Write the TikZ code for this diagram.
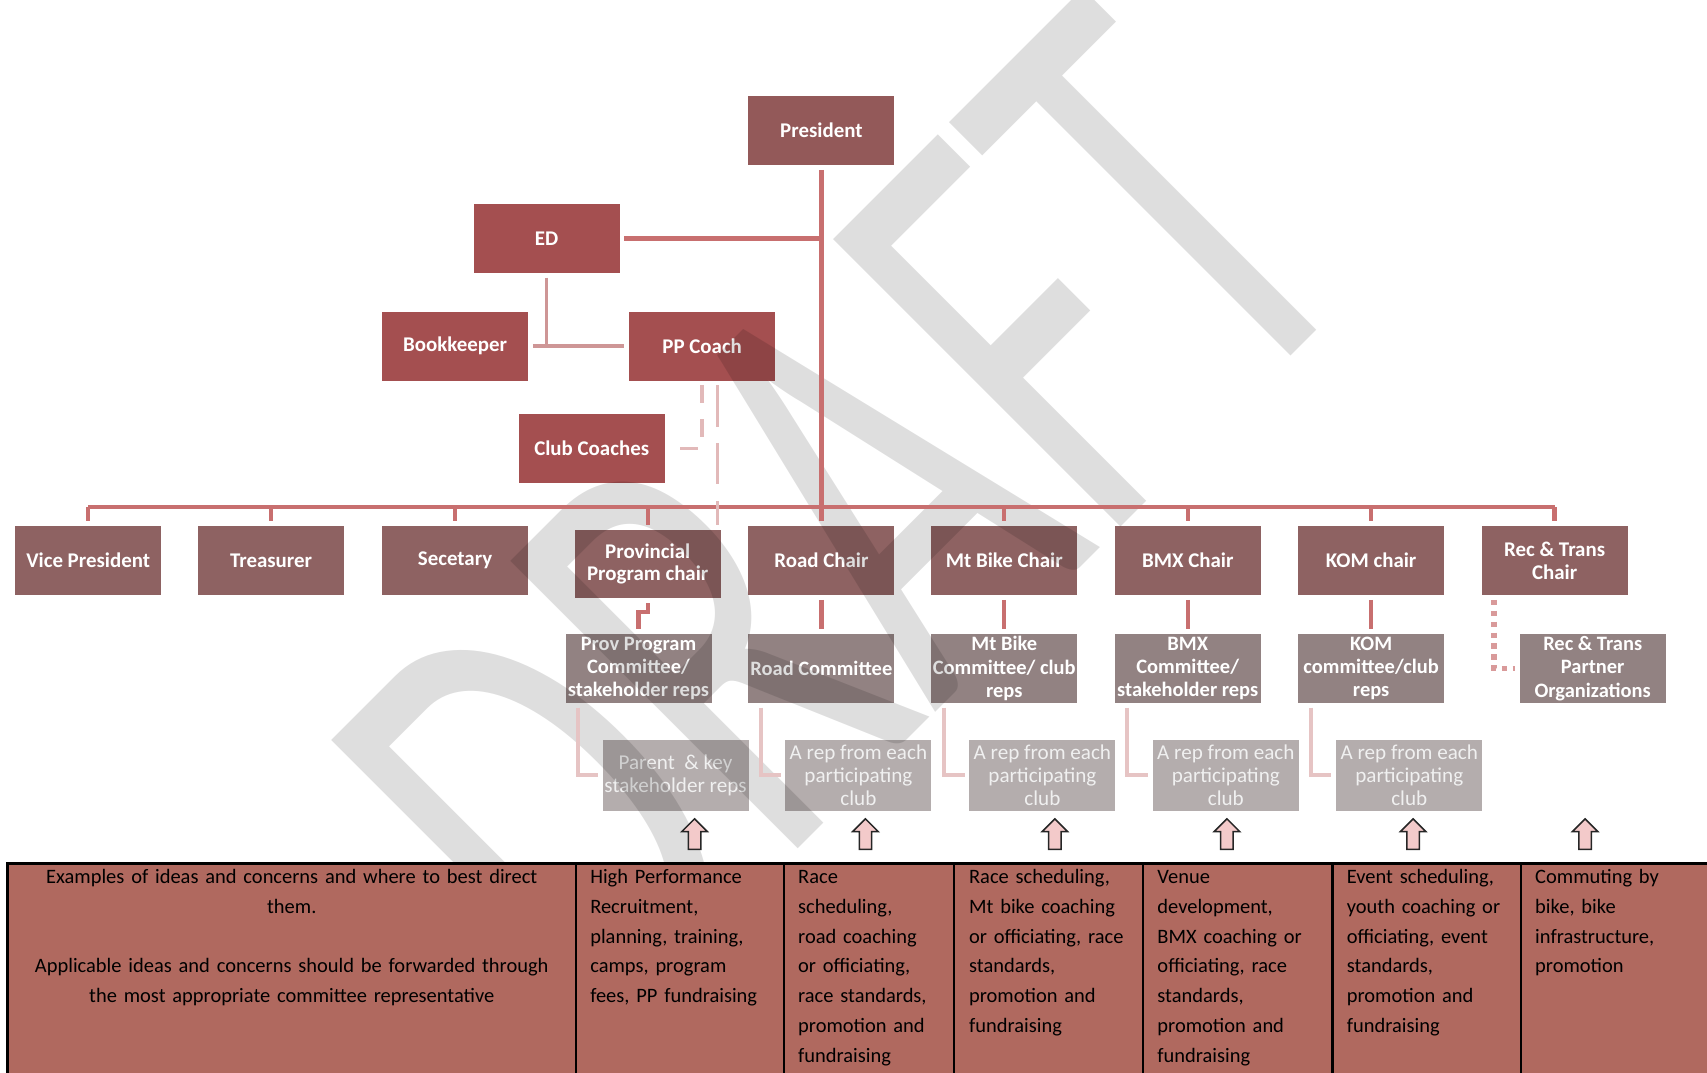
\documentclass[tikz,border=0pt]{standalone}
\usepackage{fontspec}
\setmainfont{Carlito}
\usetikzlibrary{shapes.arrows}
\definecolor{presfill}{HTML}{935959}
\definecolor{edfill}{HTML}{A44F50}
\definecolor{chairfill}{HTML}{8E6262}
\definecolor{commfill}{HTML}{928282}
\definecolor{repfill}{HTML}{B4ADAD}
\definecolor{linkred}{HTML}{C86F6F}
\definecolor{linkpale}{HTML}{CE9696}
\definecolor{linkdash}{HTML}{E2B9B9}
\definecolor{linkdot}{HTML}{D99A9A}
\definecolor{tabfill}{HTML}{B0695F}
\definecolor{arrfill}{HTML}{F3CACA}
\tikzset{
  orgnode/.style = {align=center, inner sep=0pt, text centered, minimum width=135pt, minimum height=64pt, outer sep=4pt, draw=white, line width=0.8pt},
  box_p/.style = {orgnode, fill=presfill, text=white, font=\fontsize{19.2}{21}\selectfont\bfseries},
  box_e/.style = {orgnode, fill=edfill, text=white, font=\fontsize{19.2}{21}\selectfont\bfseries},
  box_c/.style = {orgnode, fill=chairfill, text=white, font=\fontsize{19.2}{21}\selectfont\bfseries},
  box_m/.style = {orgnode, fill=commfill, text=white, font=\fontsize{18.8}{21.5}\selectfont\bfseries},
  box_r/.style = {orgnode, minimum height=66pt, fill=repfill, text=white!94!black, font=\fontsize{19.4}{21}\selectfont},
  link/.style = {linkred, line width=4pt},
  link_pale/.style = {linkpale, line width=3.5pt},
  link_dash/.style = {linkdash, line width=3.5pt, dash pattern=on 38pt off 15pt},
  link_short/.style = {linkdash, line width=3.5pt, dash pattern=on 16pt off 15pt},
  link_dot/.style = {linkdot, line width=5pt, dash pattern=on 5pt off 5pt},
  link_sub/.style = {linkdash!85!white, line width=3.5pt},
  up_arr/.style = {single arrow, shape border rotate=90, draw=black!85, fill=arrfill, line width=1.4pt, inner sep=5pt, minimum height=28pt, minimum width=22pt, single arrow head extend=6pt},
  tab_txt/.style = {anchor=base west, inner sep=0pt, align=left, text width=185pt, font=\fontsize{18.8}{27.4}\selectfont},
  wmark/.style = {anchor=base west, inner sep=0pt, transform shape, text=black, text opacity=0.13, font=\fontsize{582}{600}\selectfont},
}

\begin{document}
\begin{tikzpicture}[x=1pt, y=-1pt]
  \useasboundingbox (0,0) rectangle (1568,985);
  \clip (0,0) rectangle (1568,985);

  \node [box_p] (pres) at (754.5,120) {President};
  \node [box_e] (ed) at (502,219) {ED};
  \node [box_e] (book) at (418,318) {Bookkeeper};
  \node [box_e] (ppc) at (645,318) {PP Coach};
  \node [box_e] (clubc) at (543.5,412) {Club Coaches};

  \node [box_c] (vp) at (81,515) {Vice President};
  \node [box_c] (treas) at (249,515) {Treasurer};
  \node [box_c] (sec) at (418,515) {Secetary};
  \node [box_c] (prov) at (595,518) {Provincial\\Program chair};
  \node [box_c] (road) at (754.5,515) {Road Chair};
  \node [box_c] (mtb) at (922.5,515) {Mt Bike Chair};
  \node [box_c] (bmx) at (1091,515) {BMX Chair};
  \node [box_c] (kom) at (1259.5,515) {KOM chair};
  \node [box_c] (rec) at (1428,515) {Rec \& Trans\\Chair};

  \node [box_m] (provc) at (586.5,614) {Prov Program\\Committee/\\stakeholder reps};
  \node [box_m] (roadc) at (754.5,614) {Road Committee};
  \node [box_m] (mtbc) at (922.5,614) {Mt Bike\\Committee/ club\\reps};
  \node [box_m] (bmxc) at (1091,614) {BMX\\Committee/\\stakeholder reps};
  \node [box_m] (komc) at (1259.5,614) {KOM\\committee/club\\reps};
  \node [box_m] (recp) at (1463,614) {Rec \& Trans\\Partner\\Organizations};

  \node [box_r] (par) at (620.5,712) {Parent \ \& key\\stakeholder reps};
  \node [box_r] (rep_road) at (788.5,712) {A rep from each\\participating\\club};
  \node [box_r] (rep_mtb) at (957.5,712) {A rep from each\\participating\\club};
  \node [box_r] (rep_bmx) at (1126,712) {A rep from each\\participating\\club};
  \node [box_r] (rep_kom) at (1294.5,712) {A rep from each\\participating\\club};

  \begin{scope}[shift={(551,962)}, rotate=45, xscale=0.644]
    \node [wmark] (draft) at (0,0) {DRAFT};
  \end{scope}

  \coordinate (bus) at (0,466);
  \draw [link] (pres.south) -- (road.north);
  \draw [link] (ed.east) -- (ed.east -| pres.south);
  \draw [link] (vp.north |- bus) -- (rec.north |- bus);
  \foreach \n in {vp,treas,sec,prov,mtb,bmx,kom,rec}
    \draw [link] (\n.north |- bus) -- (\n.north);
  \draw [link_pale] (ed.south) -- (ed.south |- book.east);
  \draw [link_pale] (book.east) -- (ppc.west);
  \draw [link_short, shorten >=6pt] (ppc.south) -- (ppc.south |- clubc.east) -- (clubc.east);
  \draw [link_dash] ([xshift=14pt]ppc.south) -- ([xshift=14pt]ppc.south |- prov.north);

  \draw [link] (prov.south) -- ++(0,8) -| (provc.north);
  \foreach \a/\b in {road/roadc, mtb/mtbc, bmx/bmxc, kom/komc}
    \draw [link] (\a.south) -- (\b.north);
  \draw [link_dot] ([xshift=16pt]rec.south west) |- (recp.west);
  \foreach \a/\b in {provc/par, roadc/rep_road, mtbc/rep_mtb, bmxc/rep_bmx, komc/rep_kom}
    \draw [link_sub] ([xshift=16pt]\a.south west) |- (\b.west);

  \foreach \x [count=\i] in {638,795,969,1127,1298,1456}
    \node [up_arr] (arr\i) at (\x,769) {};

  \fill [tabfill] (7,793) rectangle (1580,1000);
  \draw [line width=2.4pt] (1580,793) -- (7,793) -- (7,1000);
  \foreach \x in {529,720,876,1050,1224,1397}
    \draw [line width=2pt] (\x,793) -- (\x,1000);

  \node [tab_txt, text width=510pt, align=center, anchor=base] (ideas) at (268,811.5)
    {Examples of ideas and concerns and where to best direct\\them.\\[27.4pt]Applicable ideas and concerns should be forwarded through\\the most appropriate committee representative};
  \node [tab_txt] (t_hp) at (542,811.5) {High Performance\\Recruitment,\\planning, training,\\camps, program\\fees, PP fundraising};
  \node [tab_txt] (t_road) at (733,811.5) {Race\\scheduling,\\road coaching\\or officiating,\\race standards,\\promotion and\\fundraising};
  \node [tab_txt] (t_mtb) at (890,811.5) {Race scheduling,\\Mt bike coaching\\or officiating, race\\standards,\\promotion and\\fundraising};
  \node [tab_txt] (t_bmx) at (1063,811.5) {Venue\\development,\\BMX coaching or\\officiating, race\\standards,\\promotion and\\fundraising};
  \node [tab_txt] (t_kom) at (1237,811.5) {Event scheduling,\\youth coaching or\\officiating, event\\standards,\\promotion and\\fundraising};
  \node [tab_txt] (t_rec) at (1410,811.5) {Commuting by\\bike, bike\\infrastructure,\\promotion};
\end{tikzpicture}
\end{document}
